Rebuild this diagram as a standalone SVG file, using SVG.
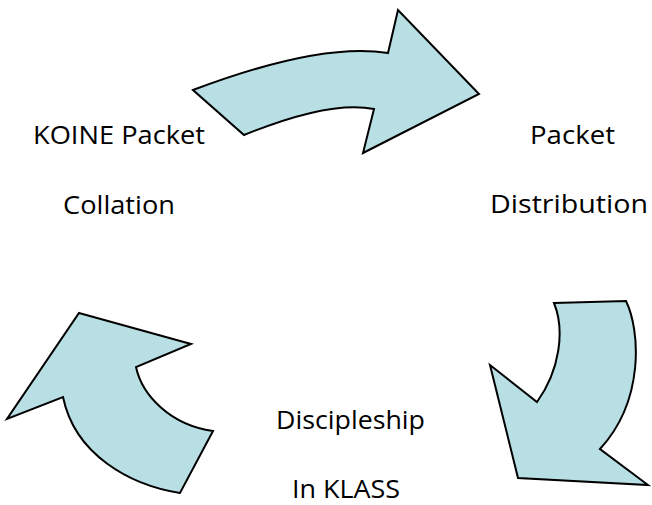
<svg xmlns="http://www.w3.org/2000/svg" width="652" height="505" viewBox="0 0 652 505">
<style>
.arrow{fill:#B7DFE4;stroke:#000;stroke-width:2;stroke-linejoin:miter}
.lbl{font-family:"Open Sans","Liberation Sans",Arial,sans-serif;font-size:25px;fill:#000}
</style>
<rect width="652" height="505" fill="#fff"/>
<g id="connectors">
<path id="arrow-top" class="arrow" d="M193,90 Q320,42 388,53 L398,10 L479,94 L363,153 L374,109 Q330,100 244,135 Z"/>
<path id="arrow-right" class="arrow" d="M554,303 L626,301 C640,330 645,400 600,449 L648,485 L518,478 L490,365 L537,402 C560,370 565,330 554,303 Z"/>
<path id="arrow-left" class="arrow" d="M79,313 L191,344 L136,367 C142,395 170,425 213,431 L180,493 C130,485 75,455 63,397 L7,419 Z"/>
</g>
<g id="node-collation">
<text class="lbl" x="33" y="144" textLength="172" lengthAdjust="spacingAndGlyphs">KOINE Packet</text>
<text class="lbl" x="63" y="214" textLength="112" lengthAdjust="spacingAndGlyphs">Collation</text>
</g>
<g id="node-distribution">
<text class="lbl" x="530" y="144" textLength="85" lengthAdjust="spacingAndGlyphs">Packet</text>
<text class="lbl" x="490" y="213" textLength="158" lengthAdjust="spacingAndGlyphs">Distribution</text>
</g>
<g id="node-discipleship">
<text class="lbl" x="276" y="429" textLength="149" lengthAdjust="spacingAndGlyphs">Discipleship</text>
<text class="lbl" x="292" y="498" textLength="108" lengthAdjust="spacingAndGlyphs">In KLASS</text>
</g>
</svg>
